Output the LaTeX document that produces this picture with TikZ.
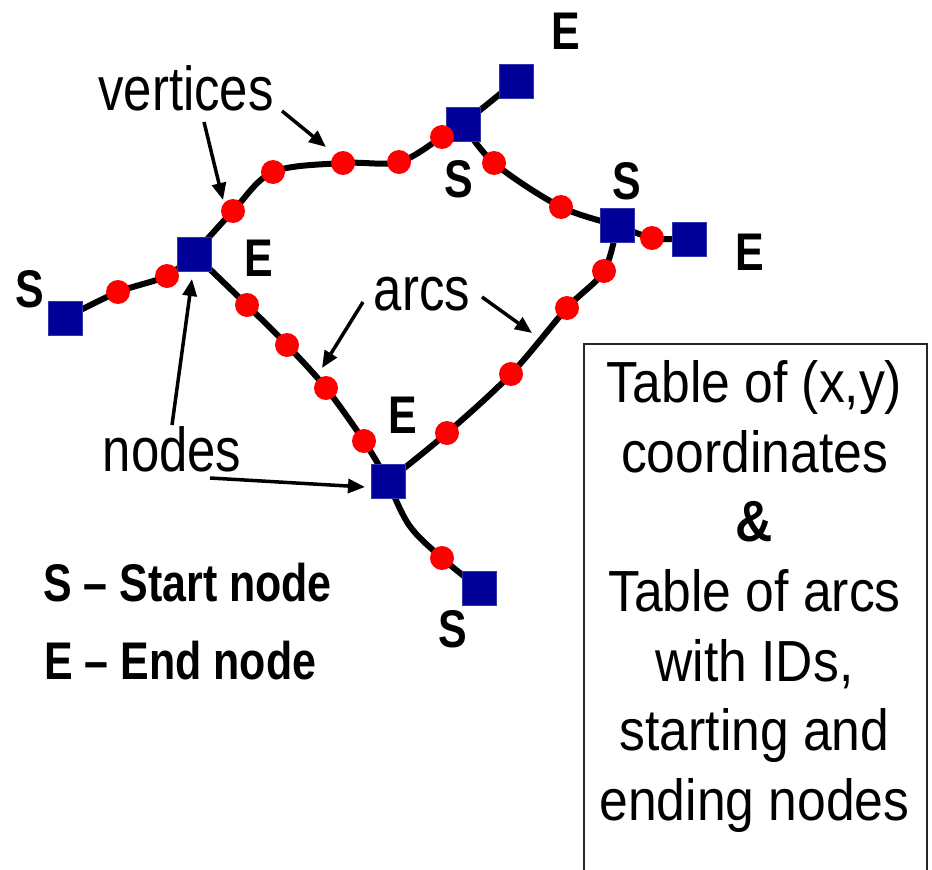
\documentclass[tikz,border=0pt]{standalone}
\usepackage{fontspec}
\setmainfont{Liberation Sans}
\newfontfamily\labf[FakeStretch=0.82]{Liberation Sans}
\newfontfamily\boxf[FakeStretch=0.89]{Liberation Sans}
\newfontfamily\legf[FakeStretch=0.81]{Liberation Sans}
\usetikzlibrary{arrows.meta}
\pgfdeclarelayer{bg}
\pgfsetlayers{bg,main}
\definecolor{navy}{RGB}{0,0,153}
\begin{document}
\begin{tikzpicture}[x=1pt,y=-1pt,
  sq/.style={rectangle, fill=navy, draw=navy!80!white, line width=0.8pt, minimum size=34pt, inner sep=0pt},
  vx/.style={circle, fill=red, minimum size=24pt, inner sep=0pt},
  edgeline/.style={line width=6pt, black, line join=round, line cap=round},
  ptr/.style={line width=3.5pt, -{Triangle[length=17pt,width=14pt]}},
  lab/.style={font=\labf\fontsize{62}{62}\selectfont, inner sep=0pt, anchor=base},
  se/.style={font=\legf\bfseries\fontsize{53}{53}\selectfont, inner sep=0pt, anchor=base},
  leg/.style={font=\legf\bfseries\fontsize{53}{53}\selectfont, inner sep=0pt, anchor=base west},
  tl/.style={font=\boxf\fontsize{58}{58}\selectfont, inner sep=0pt, anchor=base}
]
\clip (0,0) rectangle (932,870);

% nodes (squares)
\node[sq] (A) at (65,318) {};
\node[sq] (B) at (194,254) {};
\node[sq] (C) at (463,124) {};
\node[sq] (D) at (516,81) {};
\node[sq] (F) at (617,225) {};
\node[sq] (G) at (689,239) {};
\node[sq] (H) at (388,481) {};
\node[sq] (I) at (479,588) {};

% vertices (dots)
\node[vx] (ab1) at (118,292) {};
\node[vx] (ab2) at (167,276) {};
\node[vx] (bc1) at (233,211) {};
\node[vx] (bc2) at (273,172) {};
\node[vx] (bc3) at (343,163) {};
\node[vx] (bc4) at (399,162) {};
\node[vx] (bc5) at (442,137) {};
\node[vx] (cf1) at (494,163) {};
\node[vx] (cf2) at (561,207) {};
\node[vx] (fg1) at (652,238) {};
\node[vx] (bh1) at (247,305) {};
\node[vx] (bh2) at (287,345) {};
\node[vx] (bh3) at (326,388) {};
\node[vx] (bh4) at (364,441) {};
\node[vx] (fh1) at (604,271) {};
\node[vx] (fh2) at (567,308) {};
\node[vx] (fh3) at (511,374) {};
\node[vx] (fh4) at (447,433) {};
\node[vx] (hi1) at (442,558) {};

% arcs
\begin{pgfonlayer}{bg}
\draw[edgeline] plot[smooth, tension=0.5] coordinates {(A.center) (ab1.center) (ab2.center) (B.center)};
\draw[edgeline] plot[smooth, tension=0.55] coordinates {(B.center) (bc1.center) (bc2.center) (bc3.center) (bc4.center) (bc5.center) (C.center)};
\draw[edgeline] (C.center) -- (D.center);
\draw[edgeline] plot[smooth, tension=0.55] coordinates {(C.center) (cf1.center) (cf2.center) (F.center)};
\draw[edgeline] plot[smooth, tension=0.5] coordinates {(F.center) (fg1.center) (G.center)};
\draw[edgeline] plot[smooth, tension=0.5] coordinates {(B.center) (bh1.center) (bh2.center) (bh3.center) (bh4.center) (H.center)};
\draw[edgeline] plot[smooth, tension=0.55] coordinates {(F.center) (fh1.center) (fh2.center) (fh3.center) (fh4.center) (H.center)};
\draw[edgeline] plot[smooth, tension=0.6] coordinates {(H.center) (409,525) (hi1.center) (I.center)};
\end{pgfonlayer}

% S / E labels
\node[se] (lE1) at (566,49) {E};
\node[se] (lS1) at (459,197) {S};
\node[se] (lS2) at (627,199) {S};
\node[se] (lE2) at (750,270) {E};
\node[se] (lE3) at (259,276) {E};
\node[se] (lS3) at (30,307) {S};
\node[se] (lE4) at (403,433) {E};
\node[se] (lS4) at (453,647) {S};

% annotation labels
\node[lab] (vert) at (186,110) {vertices};
\node[lab] (arcs) at (422,310) {arcs};
\node[lab] (nodes) at (172,471) {nodes};

\coordinate (va1) at (204,122); \coordinate (vt1) at (223,200);
\coordinate (va2) at (282,111); \coordinate (vt2) at (326,147);
\coordinate (aa1) at (363,302); \coordinate (at1) at (322,368);
\coordinate (aa2) at (482,297); \coordinate (at2) at (532,333);
\coordinate (na1) at (172,425); \coordinate (nt1) at (192,279);
\coordinate (na2) at (210,478); \coordinate (nt2) at (365,487);
\draw[ptr] (va1) -- (vt1);
\draw[ptr] (va2) -- (vt2);
\draw[ptr] (aa1) -- (at1);
\draw[ptr] (aa2) -- (at2);
\draw[ptr] (na1) -- (nt1);
\draw[ptr] (na2) -- (nt2);

% legend
\node[leg] (leg1) at (43,601) {S – Start node};
\node[leg] (leg2) at (44,679) {E – End node};

% table box
\node[draw=black!85, line width=2pt, minimum width=343pt, minimum height=560pt, anchor=north west, inner sep=0pt] (tbl) at (583,343) {};
\node[tl] (t1) at (754.5,402) {Table of (x,y)};
\node[tl] (t2) at (754.5,472) {coordinates};
\node[tl] (t3) at (754.5,541) {\bfseries \&};
\node[tl] (t4) at (754.5,611) {Table of arcs};
\node[tl] (t5) at (754.5,681) {with IDs,};
\node[tl] (t6) at (754.5,750) {starting and};
\node[tl] (t7) at (754.5,820) {ending nodes};
\end{tikzpicture}
\end{document}
